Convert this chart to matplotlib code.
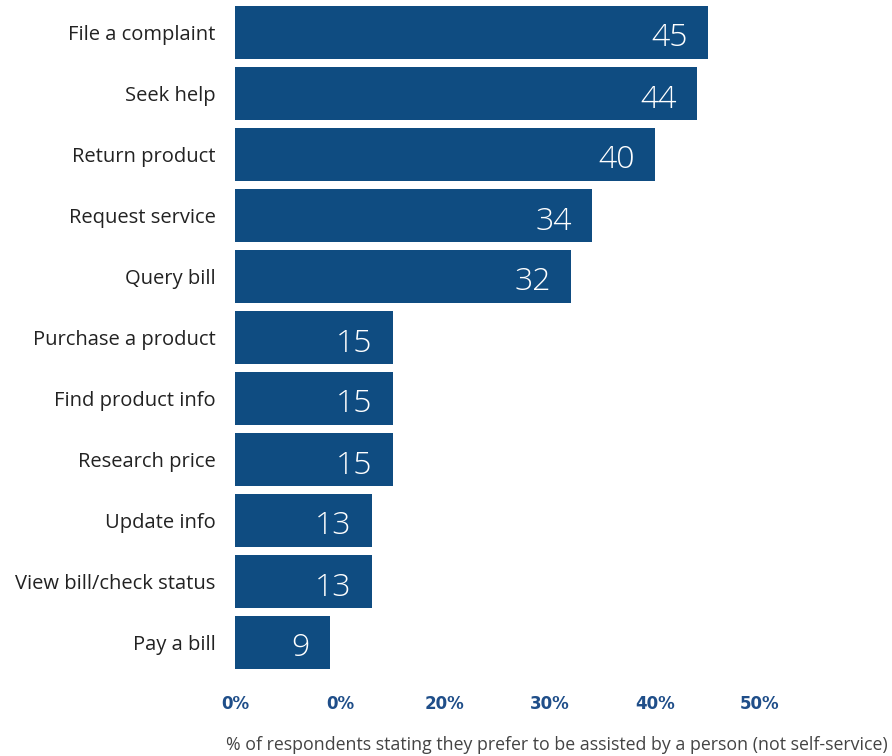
import matplotlib
matplotlib.use("Agg")
import matplotlib.pyplot as plt

plt.rcParams["font.family"] = ["Open Sans", "DejaVu Sans"]

# data, top to bottom
categories = ["File a complaint", "Seek help", "Return product", "Request service",
              "Query bill", "Purchase a product", "Find product info", "Research price",
              "Update info", "View bill/check status", "Pay a bill"]
values = [45, 44, 40, 34, 32, 15, 15, 15, 13, 13, 9]
tick_values = [0, 10, 20, 30, 40, 50]
tick_labels = ["0%", "0%", "20%", "30%", "40%", "50%"]
x_title = "% of respondents stating they prefer to be assisted by a person (not self-service)"

BAR = "#0f4c81"
TICK = "#1f4e89"

W, H = 892, 756
fig = plt.figure(figsize=(W / 100, H / 100), dpi=100)
ax = fig.add_axes([235 / W, 1 - 673 / H, (760 - 235) / W, 671 / H])

ypos = list(range(len(categories)))
ax.barh(ypos, values, height=0.87, color=BAR)
ax.set_ylim(len(categories) - 0.5, -0.5)
ax.set_xlim(0, 50)

for y, v in zip(ypos, values):
    ax.annotate(str(v), (v, y), xytext=(-20, -6), textcoords="offset pixels",
                ha="right", va="center", color="white", fontsize=23,
                fontweight=300)

ax.set_yticks(ypos)
ax.set_yticklabels(categories, fontsize=14.5, color="#222222")
ax.set_xticks(tick_values)
ax.set_xticklabels(tick_labels, fontsize=12, fontweight="bold", color=TICK,
                   family="DejaVu Sans")
ax.tick_params(axis="y", length=0, pad=14)
ax.tick_params(axis="x", length=0, pad=16)
for s in ax.spines.values():
    s.set_visible(False)

fig.text(888 / W, 1 - 745 / H, x_title, ha="right", va="center",
         fontsize=12.8, color="#444444")

fig.savefig("out.png", dpi=100)
